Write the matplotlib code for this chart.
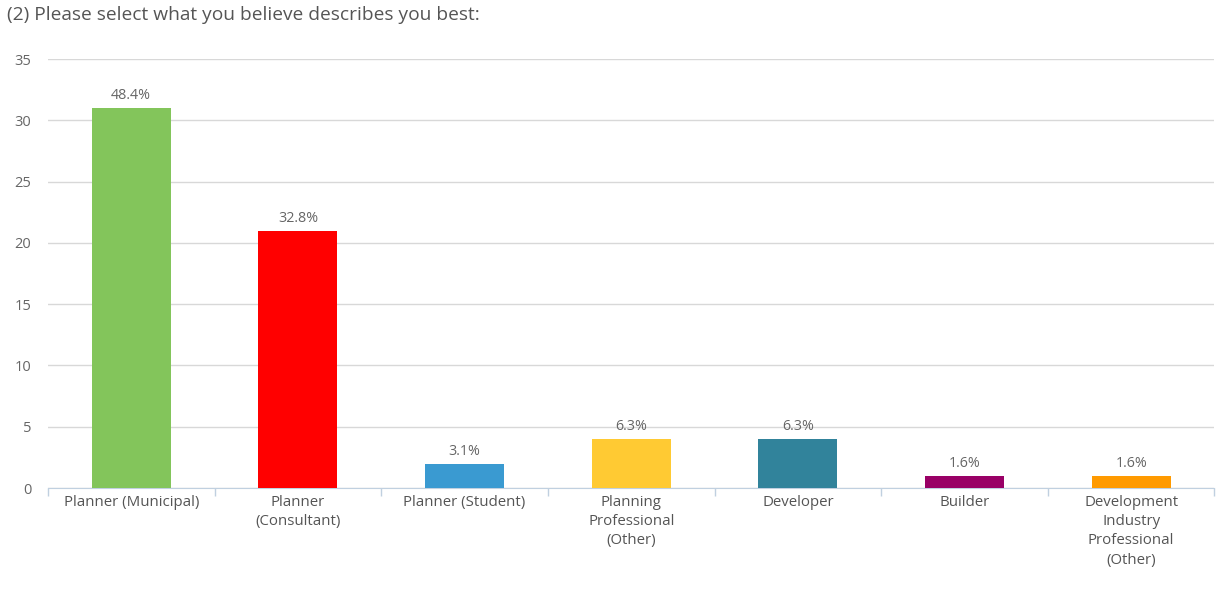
import matplotlib
matplotlib.use('Agg')
import matplotlib.pyplot as plt
import numpy as np

plt.rcParams['font.family'] = ['Open Sans', 'DejaVu Sans']

categories = ['Planner (Municipal)', 'Planner\n(Consultant)', 'Planner (Student)',
              'Planning\nProfessional\n(Other)', 'Developer', 'Builder',
              'Development\nIndustry\nProfessional\n(Other)']
counts = [31, 21, 2, 4, 4, 1, 1]
pct_labels = ['48.4%', '32.8%', '3.1%', '6.3%', '6.3%', '1.6%', '1.6%']
colors = ['#83c55b', '#ff0000', '#3a9ad1', '#ffca33', '#31839b', '#990066', '#ff9a00']

fig = plt.figure(figsize=(12.28, 5.93), dpi=100)
ax = fig.add_axes([0.039, 0.177, 0.95, 0.7235])

x = np.arange(len(categories))
ax.bar(x, counts, width=0.475, color=colors, zorder=3)

for xi, c, lab in zip(x, counts, pct_labels):
    ax.text(xi, c + 0.4, lab, ha='center', va='bottom', fontsize=10.3, color='#666666', zorder=4)

ax.set_xlim(-0.5, len(categories) - 0.5)
ax.set_ylim(0, 35)
ax.set_yticks(range(0, 36, 5))
ax.yaxis.grid(True, color='#d8d8d8', linewidth=1, zorder=0)
ax.tick_params(axis='y', length=0, pad=12, labelsize=10.5, labelcolor='#666666')

ax.set_xticks(x)
ax.set_xticklabels(categories, fontsize=10.8, color='#555555', linespacing=1.38)
ax.tick_params(axis='x', length=0, pad=5)
ax.set_xticks(np.arange(-0.5, len(categories), 1), minor=True)
ax.tick_params(axis='x', which='minor', length=6, color='#c0d0e0', width=1)

for s in ['top', 'right', 'left']:
    ax.spines[s].set_visible(False)
ax.spines['bottom'].set_color('#c0d0e0')

fig.text(0.006, 0.974, '(2) Please select what you believe describes you best:',
         fontsize=13.8, color='#555555', ha='left', va='center')

fig.savefig('out.png', dpi=100)
